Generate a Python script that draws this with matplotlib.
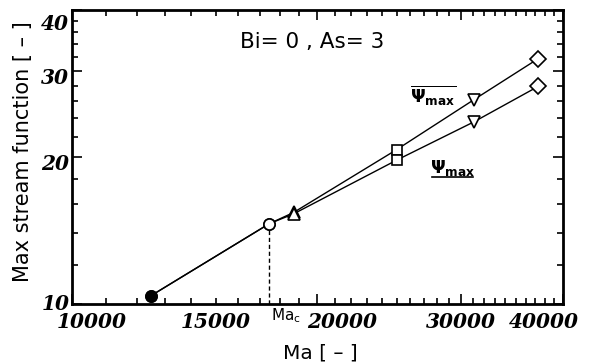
import matplotlib
matplotlib.use('Agg')
import matplotlib.pyplot as plt
from matplotlib.ticker import FixedLocator, NullFormatter, FixedFormatter
from matplotlib.transforms import ScaledTranslation
import matplotlib.lines as mlines

# ---- data ----
Ma = [12500, 17450, 18700, 25000, 31100, 37300]
psi_bar_max = [10.4, 14.6, 15.4, 20.7, 26.2, 31.8]
psi_max = [10.4, 14.6, 15.3, 19.7, 23.6, 27.9]
point_markers = ['o', 'o', '^', 's', 'v', 'D']
point_fill = ['black', 'white', 'white', 'white', 'white', 'white']
Ma_c = 17450
Ma_c_psi = 14.6

x_major = [10000, 15000, 20000, 30000, 40000]
x_major_labels = ['10000', '15000', '20000', '30000', '40000']
x_minor = [v for v in range(11000, 40000, 1000) if v not in x_major]
y_major = [10, 20, 30, 40]
y_major_labels = ['10', '20', '30', '40']
y_minor = [v for v in range(12, 40, 2) if v not in y_major]

plt.rcParams['mathtext.fontset'] = 'dejavusans'

fig = plt.figure(figsize=(5.96, 3.63), dpi=100)
ax = fig.add_axes([0.1208, 0.1625, 0.8238, 0.81])
ax.set_xscale('log')
ax.set_yscale('log')
ax.set_xlim(10000, 40000)
ax.set_ylim(10, 40)

# lines
ax.plot(Ma, psi_bar_max, color='black', lw=1.0, zorder=2)
ax.plot(Ma, psi_max, color='black', lw=1.0, zorder=2)
# dashed Ma_c line
ax.plot([Ma_c, Ma_c], [10, Ma_c_psi], color='black', lw=1.0, ls=(0, (3, 2)), zorder=1)

# markers
msize = {'o': 8, '^': 9, 's': 7.5, 'v': 9, 'D': 8.5}
for x, y1, y2, m, fc in zip(Ma, psi_bar_max, psi_max, point_markers, point_fill):
    for y in (y1, y2):
        ax.plot([x], [y], marker=m, ms=msize[m], mfc=fc, mec='black', mew=1.2,
                ls='none', zorder=3)

# ticks
ax.xaxis.set_major_locator(FixedLocator(x_major))
ax.xaxis.set_major_formatter(FixedFormatter(x_major_labels))
ax.xaxis.set_minor_locator(FixedLocator(x_minor))
ax.xaxis.set_minor_formatter(NullFormatter())
ax.yaxis.set_major_locator(FixedLocator(y_major))
ax.yaxis.set_major_formatter(FixedFormatter(y_major_labels))
ax.yaxis.set_minor_locator(FixedLocator(y_minor))
ax.yaxis.set_minor_formatter(NullFormatter())

ax.tick_params(which='both', direction='in', top=True, right=True, width=1.2, color='black')
ax.tick_params(which='major', length=7)
ax.tick_params(which='minor', length=4)
ax.tick_params(axis='x', which='major', pad=6)
ax.tick_params(axis='y', which='major', pad=2)

tickfont = dict(family='DejaVu Serif', style='italic', weight='bold', size=14.5)
for lab in ax.get_xticklabels() + ax.get_yticklabels():
    lab.set_fontproperties(matplotlib.font_manager.FontProperties(**tickfont))

# shift specific tick labels
xshift = {10000: 20, 15000: 0, 20000: 25, 30000: 0, 40000: -19}
for t in ax.xaxis.get_major_ticks():
    loc = t.get_loc()
    dx = xshift.get(loc, 0) / 100.0
    t.label1.set_transform(t.label1.get_transform() + ScaledTranslation(dx, 0, fig.dpi_scale_trans))
    if loc == 15000:
        t.tick1line.set_markersize(4)
        t.tick2line.set_markersize(4)
yshift = {10: 2, 20: -5, 30: -5, 40: -12}
for t in ax.yaxis.get_major_ticks():
    loc = t.get_loc()
    dy = yshift.get(loc, 0) / 100.0
    t.label1.set_transform(t.label1.get_transform() + ScaledTranslation(0, dy, fig.dpi_scale_trans))

for sp in ax.spines.values():
    sp.set_linewidth(2.0)

# labels
ax.set_ylabel('Max stream function [ \u2013 ]', family='DejaVu Sans', size=15)
ax.set_xlabel('Ma [ \u2013 ]', family='DejaVu Sans', size=14.5)
ax.xaxis.set_label_coords(0.506, -0.135)
ax.yaxis.set_label_coords(-0.08, 0.519)

ax.text(0.49, 0.89, 'Bi= 0 , As= 3', transform=ax.transAxes, ha='center', va='center',
        family='DejaVu Sans', size=15.5)

ax.annotate(r'$\mathrm{Ma_c}$', xy=(Ma_c, 10), xytext=(1, -2), textcoords='offset points',
            ha='left', va='top', size=11)

ax.text(0.735, 0.712, r'$\overline{\mathbf{\Psi_{max}}}$', transform=ax.transAxes,
        ha='center', va='center', size=12.5)
ax.text(0.775, 0.463, r'$\mathbf{\Psi_{max}}$', transform=ax.transAxes,
        ha='center', va='center', size=12.5)
ax.add_line(mlines.Line2D([0.733, 0.817], [0.432, 0.432], transform=ax.transAxes,
                          color='black', lw=1.2))

fig.savefig('out.png', dpi=100)
